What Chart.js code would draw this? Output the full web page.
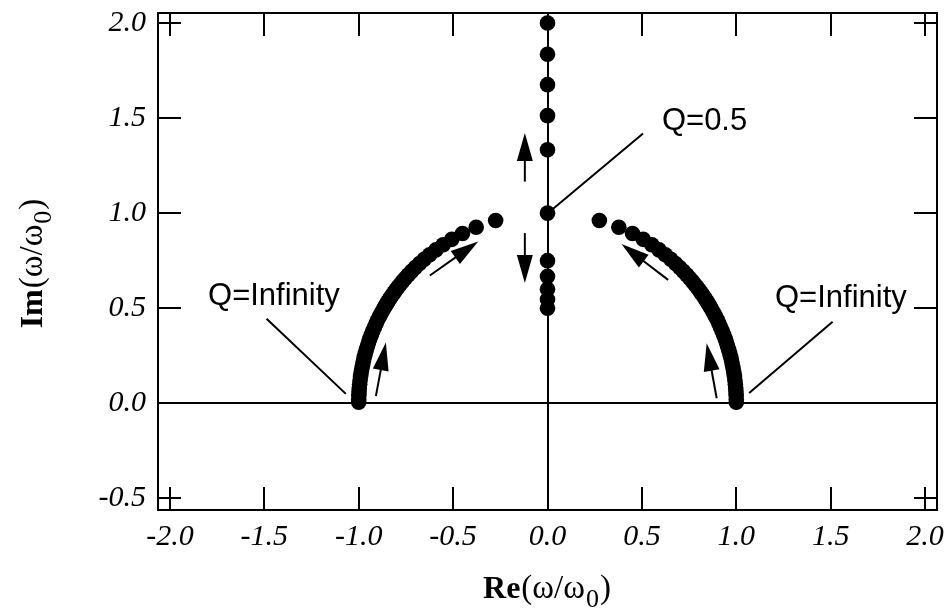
<!DOCTYPE html>
<html><head><meta charset="utf-8">
<script src="https://cdn.jsdelivr.net/npm/chart.js@4/dist/chart.umd.min.js"></script>
<style>html,body{margin:0;padding:0;background:#fff}canvas{display:block}</style>
</head><body>
<canvas id="c" width="952" height="611"></canvas>
<script>
// Overdamped roots (Q <= 0.5): on the imaginary axis
const overdampedRe = [0, 0, 0, 0, 0, 0, 0, 0, 0, 0, 0];
const overdampedIm = [2.0, 1.836, 1.676, 1.513, 1.333, 1.0, 0.75, 0.667, 0.6, 0.546, 0.5];

// Underdamped roots (Q > 0.5): right branch
const rightRe = [0.2747,0.3778,0.4503,0.5068,0.5528,0.5913,0.6242,0.6527,0.6777,0.6999,0.7196,0.7372,0.7531,0.7675,0.7806,0.7926,0.8036,0.8136,0.8229,0.8315,0.8394,0.8468,0.8536,0.8601,0.8660,0.8773,0.8879,0.8980,0.9075,0.9165,0.9250,0.9330,0.9404,0.9474,0.9539,0.9600,0.9656,0.9708,0.9755,0.9798,0.9837,0.9871,0.9902,0.9928,0.9950,0.9968,0.9982,0.9992,0.9998,1.0000];
const rightIm = [0.9615,0.9259,0.8929,0.8621,0.8333,0.8065,0.7813,0.7576,0.7353,0.7143,0.6944,0.6757,0.6579,0.6410,0.6250,0.6098,0.5952,0.5814,0.5682,0.5556,0.5435,0.5319,0.5208,0.5102,0.5000,0.48,0.46,0.44,0.42,0.40,0.38,0.36,0.34,0.32,0.30,0.28,0.26,0.24,0.22,0.20,0.18,0.16,0.14,0.12,0.10,0.08,0.06,0.04,0.02,0.005];

// Underdamped roots: left branch
const leftRe = [-0.2747,-0.3778,-0.4503,-0.5068,-0.5528,-0.5913,-0.6242,-0.6527,-0.6777,-0.6999,-0.7196,-0.7372,-0.7531,-0.7675,-0.7806,-0.7926,-0.8036,-0.8136,-0.8229,-0.8315,-0.8394,-0.8468,-0.8536,-0.8601,-0.8660,-0.8773,-0.8879,-0.8980,-0.9075,-0.9165,-0.9250,-0.9330,-0.9404,-0.9474,-0.9539,-0.9600,-0.9656,-0.9708,-0.9755,-0.9798,-0.9837,-0.9871,-0.9902,-0.9928,-0.9950,-0.9968,-0.9982,-0.9992,-0.9998,-1.0000];
const leftIm = [0.9615,0.9259,0.8929,0.8621,0.8333,0.8065,0.7813,0.7576,0.7353,0.7143,0.6944,0.6757,0.6579,0.6410,0.6250,0.6098,0.5952,0.5814,0.5682,0.5556,0.5435,0.5319,0.5208,0.5102,0.5000,0.48,0.46,0.44,0.42,0.40,0.38,0.36,0.34,0.32,0.30,0.28,0.26,0.24,0.22,0.20,0.18,0.16,0.14,0.12,0.10,0.08,0.06,0.04,0.02,0.005];

const xTickValues = [-2, -1.5, -1, -0.5, 0, 0.5, 1, 1.5, 2];
const xTickLabels = ['-2.0', '-1.5', '-1.0', '-0.5', '0.0', '0.5', '1.0', '1.5', '2.0'];
const yTickValues = [-0.5, 0, 0.5, 1, 1.5, 2];
const yTickLabels = ['-0.5', '0.0', '0.5', '1.0', '1.5', '2.0'];

// Annotation texts and their anchor positions (data units)
const labelTexts = ['Q=0.5', 'Q=Infinity', 'Q=Infinity'];
const labelAnchors = [[0.606, 1.438], [-1.798, 0.515], [1.205, 0.507]];
const leaderLines = [[0.506, 1.419, 0.022, 1.017], [-1.488, 0.444, -1.068, 0.049], [1.510, 0.429, 1.068, 0.053]];
const arrows = [
  [-0.120, 1.166, -0.120, 1.421],
  [-0.120, 0.895, -0.120, 0.632],
  [-0.623, 0.672, -0.367, 0.851],
  [-0.909, 0.038, -0.856, 0.319],
  [0.639, 0.649, 0.392, 0.837],
  [0.896, 0.026, 0.843, 0.316]
];

const toPts = (re, im) => re.map((r, i) => ({ x: r, y: im[i] }));
const SERIF = "'Liberation Serif', 'Times New Roman', serif";
const SANS = "'Liberation Sans', Arial, sans-serif";

const decorPlugin = {
  id: 'decor',
  beforeDraw(chart) {
    const ctx = chart.ctx;
    ctx.save();
    ctx.fillStyle = '#fff';
    ctx.fillRect(0, 0, chart.width, chart.height);
    ctx.restore();
  },
  afterDatasetsDraw(chart) {
    const ctx = chart.ctx;
    const xs = chart.scales.x, ys = chart.scales.y;
    const a = chart.chartArea;
    const px = v => xs.getPixelForValue(v);
    const py = v => ys.getPixelForValue(v);
    ctx.save();
    ctx.strokeStyle = '#000';
    ctx.fillStyle = '#000';
    ctx.lineWidth = 2;
    ctx.lineCap = 'butt';
    // frame
    ctx.strokeRect(a.left, a.top, a.right - a.left, a.bottom - a.top);
    // inner ticks on all four sides
    const TL = 23;
    ctx.beginPath();
    xTickValues.forEach(v => {
      const x = Math.round(px(v));
      ctx.moveTo(x, a.bottom); ctx.lineTo(x, a.bottom - TL);
      ctx.moveTo(x, a.top); ctx.lineTo(x, a.top + TL);
    });
    yTickValues.forEach(v => {
      const y = Math.round(py(v));
      ctx.moveTo(a.left, y); ctx.lineTo(a.left + TL, y);
      ctx.moveTo(a.right, y); ctx.lineTo(a.right - TL, y);
    });
    ctx.stroke();
    // leader lines
    ctx.beginPath();
    leaderLines.forEach(l => {
      ctx.moveTo(px(l[0]), py(l[1]));
      ctx.lineTo(px(l[2]), py(l[3]));
    });
    ctx.stroke();
    // arrows
    arrows.forEach(ar => {
      const x1 = px(ar[0]), y1 = py(ar[1]), x2 = px(ar[2]), y2 = py(ar[3]);
      const dx = x2 - x1, dy = y2 - y1, len = Math.hypot(dx, dy);
      const ux = dx / len, uy = dy / len;
      const HL = 28, HW = 8;
      const bx = x2 - ux * HL, by = y2 - uy * HL;
      ctx.beginPath();
      ctx.moveTo(x1, y1);
      ctx.lineTo(bx + ux * 2, by + uy * 2);
      ctx.stroke();
      ctx.beginPath();
      ctx.moveTo(x2, y2);
      ctx.lineTo(bx - uy * HW, by + ux * HW);
      ctx.lineTo(bx + uy * HW, by - ux * HW);
      ctx.closePath();
      ctx.fill();
    });
    // labels
    ctx.font = '31px ' + SANS;
    ctx.textAlign = 'left';
    ctx.textBaseline = 'alphabetic';
    labelTexts.forEach((t, i) => {
      ctx.fillText(t, px(labelAnchors[i][0]), py(labelAnchors[i][1]));
    });
    ctx.restore();
  },
  afterDraw(chart) {
    const ctx = chart.ctx;
    const parts = (name) => [
      { t: name, f: 'bold 32px ' + SERIF, dy: 0 },
      { t: '(\u03c9/\u03c9', f: '33px ' + SERIF, dy: 0 },
      { t: '0', f: '26px ' + SERIF, dy: 9 },
      { t: ')', f: '33px ' + SERIF, dy: 0 }
    ];
    const drawTitle = (pp, cx, baseY) => {
      let w = 0;
      pp.forEach(p => { ctx.font = p.f; p.w = ctx.measureText(p.t).width + 1; w += p.w; });
      let x = cx - w / 2;
      pp.forEach(p => { ctx.font = p.f; ctx.fillText(p.t, x, baseY + p.dy); x += p.w; });
    };
    ctx.save();
    ctx.fillStyle = '#000';
    ctx.textAlign = 'left';
    ctx.textBaseline = 'alphabetic';
    const xs = chart.scales.x;
    drawTitle(parts('Re'), xs.getPixelForValue(0), 598);
    ctx.translate(42, 263);
    ctx.rotate(-Math.PI / 2);
    drawTitle(parts('Im'), 0, 0);
    ctx.restore();
  }
};

const ptStyle = { pointRadius: 7.8, pointHoverRadius: 7.8, backgroundColor: '#000', borderWidth: 0, showLine: false };

new Chart(document.getElementById('c'), {
  type: 'scatter',
  data: {
    datasets: [
      Object.assign({ label: 'Q<=0.5', data: toPts(overdampedRe, overdampedIm) }, ptStyle),
      Object.assign({ label: 'Q>0.5 right', data: toPts(rightRe, rightIm) }, ptStyle),
      Object.assign({ label: 'Q>0.5 left', data: toPts(leftRe, leftIm) }, ptStyle)
    ]
  },
  options: {
    responsive: false,
    animation: false,
    devicePixelRatio: 1,
    layout: { padding: { left: 0, right: 15, top: 13, bottom: 0 } },
    plugins: { legend: { display: false }, tooltip: { enabled: false } },
    scales: {
      x: {
        type: 'linear', min: -2.063, max: 2.063,
        afterBuildTicks: s => { s.ticks = xTickValues.map(v => ({ value: v })); },
        afterFit: s => { s.height = 101; s.paddingLeft = 0; s.paddingRight = 0; s.paddingTop = 0; s.paddingBottom = 0; },
        ticks: {
          callback: (v, i) => xTickLabels[i],
          font: { family: SERIF, style: 'italic', size: 30 },
          color: '#000', padding: 9, maxRotation: 0, autoSkip: false
        },
        grid: { drawTicks: false, lineWidth: 2, color: c => (c.tick && c.tick.value === 0) ? '#000' : 'rgba(0,0,0,0)' },
        border: { display: false }
      },
      y: {
        type: 'linear', min: -0.562, max: 2.053,
        afterBuildTicks: s => { s.ticks = yTickValues.map(v => ({ value: v })); },
        afterFit: s => { s.width = 158; s.paddingLeft = 0; s.paddingRight = 0; s.paddingTop = 0; s.paddingBottom = 0; },
        ticks: {
          callback: (v, i) => yTickLabels[i],
          font: { family: SERIF, style: 'italic', size: 30 },
          color: '#000', padding: 12, autoSkip: false
        },
        grid: { drawTicks: false, lineWidth: 2, color: c => (c.tick && c.tick.value === 0) ? '#000' : 'rgba(0,0,0,0)' },
        border: { display: false }
      }
    }
  },
  plugins: [decorPlugin]
});
</script>
</body></html>
